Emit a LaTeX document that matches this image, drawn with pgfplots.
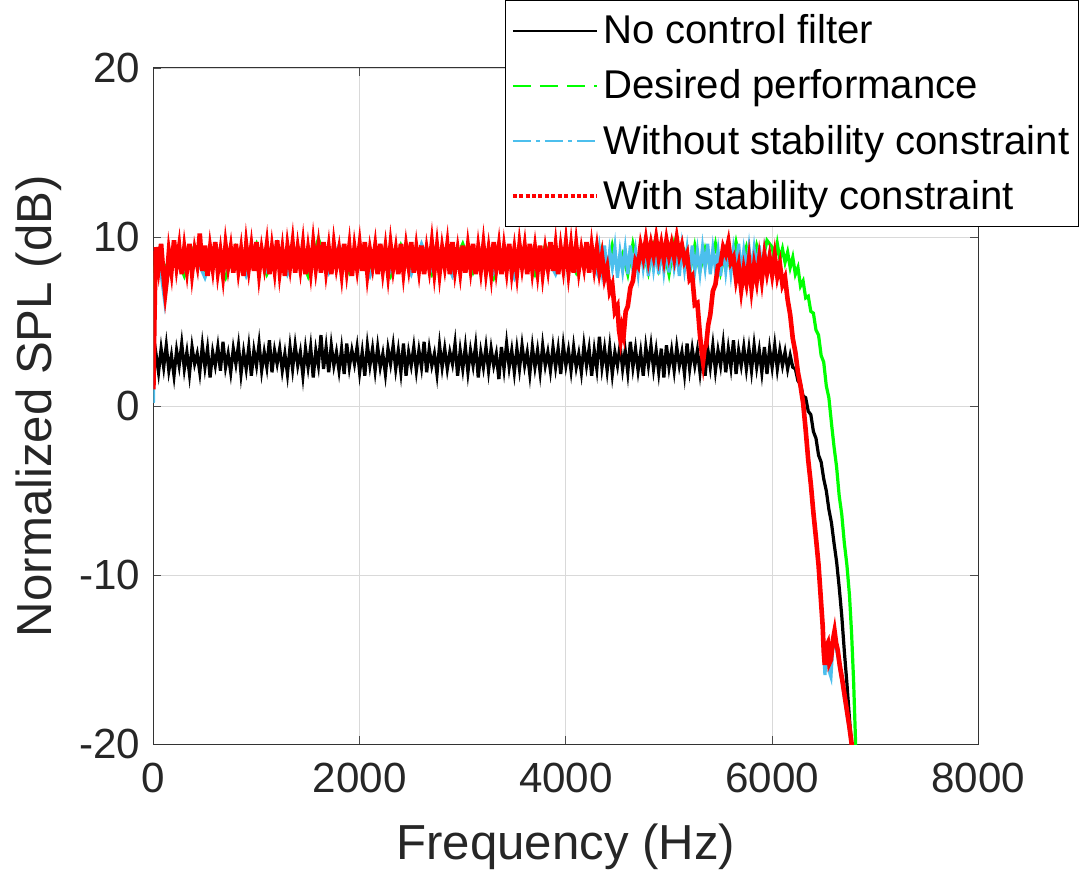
\documentclass[border=0pt]{standalone}
\usepackage{pgfplots}
\pgfplotsset{compat=1.18}
\usepackage{fontspec}
\setmainfont{Liberation Sans}
\definecolor{mblue}{rgb}{0.30,0.75,0.93}
\definecolor{mgreen}{rgb}{0,1,0}
\definecolor{mred}{rgb}{1,0,0}

\begin{document}
\begin{tikzpicture}
\begin{axis}[
    width=411pt, height=337pt, scale only axis,
    xmin=0, xmax=8000, ymin=-20, ymax=20,
    xtick={0,2000,4000,6000,8000},
    ytick={-20,-10,0,10,20},
    tick align=inside, major tick length=4pt,
    tick style={black!70, line width=0.4pt},
    axis line style={black!80, line width=0.5pt},
    grid=major, grid style={black!15, line width=0.4pt},
    /pgf/number format/assume math mode=true,
    /pgf/number format/set thousands separator={},
    ticklabel style={font=\fontsize{21}{25}\selectfont, text=black!85},
    yticklabel style={xshift=-3pt},
    xticklabel style={yshift=-6pt},
    label style={font=\fontsize{24.5}{29}\selectfont, text=black!85},
    xlabel={Frequency (Hz)},
    ylabel={Normalized SPL (dB)},
    xlabel style={yshift=-8.5pt},
    ylabel style={yshift=2pt},
    legend style={at={(0.4265,1.1004)}, anchor=north west,
        font=\fontsize{20}{23}\selectfont, draw=black, line width=0.5pt,
        inner xsep=2.5pt, inner ysep=5pt, row sep=7.5pt,
        cells={anchor=west}},
    legend image code/.code={\draw[#1] (0pt,0pt) -- (42pt,0pt);},
]

% no control filter
\addplot[black, line width=1.6pt, forget plot] coordinates {
(0,2.2) (25,3.1) (50,2.0) (75,3.4) (100,2.3) (125,3.6) (150,2.1) (175,3.0) (200,1.8) (225,3.3)
(250,2.4) (275,3.7) (300,2.2) (325,3.2) (350,1.9) (375,3.5) (400,2.5) (425,3.1) (450,2.0) (475,3.6)
(500,2.3) (525,3.4) (550,1.7) (575,3.2) (600,2.4) (625,3.5) (650,2.1) (675,3.8) (700,2.3) (725,3.1)
(750,2.0) (775,3.4) (800,2.5) (825,3.6) (850,1.9) (875,3.2) (900,2.2) (925,3.5) (950,1.8) (975,3.3)
(1000,2.4) (1025,3.7) (1050,2.1) (1075,3.2) (1100,2.3) (1125,3.9) (1150,2.0) (1175,3.3) (1200,2.5) (1225,3.4)
(1250,2.1) (1275,3.1) (1300,1.9) (1325,3.5) (1350,2.2) (1375,3.6) (1400,2.4) (1425,3.2) (1450,1.8) (1475,3.4)
(1500,2.3) (1525,3.5) (1550,1.7) (1575,3.3) (1600,2.4) (1625,4.2) (1650,2.2) (1675,3.5) (1700,2.0) (1725,3.6)
(1750,2.4) (1775,3.2) (1800,2.1) (1825,3.4) (1850,1.9) (1875,3.7) (1900,2.3) (1925,3.3) (1950,2.5) (1975,3.5)
(2000,2.0) (2025,3.2) (2050,1.8) (2075,3.6) (2100,2.4) (2125,3.4) (2150,2.1) (2175,3.5) (2200,2.3) (2225,3.1)
(2250,1.9) (2275,3.4) (2300,2.5) (2325,3.6) (2350,2.2) (2375,3.3) (2400,2.0) (2425,3.7) (2450,1.8) (2475,3.2)
(2500,2.4) (2525,3.5) (2550,2.1) (2575,3.3) (2600,2.3) (2625,3.8) (2650,2.0) (2675,3.4) (2700,2.4) (2725,3.1)
(2750,1.9) (2775,3.6) (2800,2.3) (2825,3.4) (2850,2.2) (2875,3.2) (2900,2.5) (2925,3.7) (2950,1.8) (2975,3.3)
(3000,2.2) (3025,3.5) (3050,2.0) (3075,3.3) (3100,2.4) (3125,3.6) (3150,1.7) (3175,3.2) (3200,2.3) (3225,3.5)
(3250,2.1) (3275,3.4) (3300,2.4) (3325,3.1) (3350,1.6) (3375,3.5) (3400,2.2) (3425,3.7) (3450,2.3) (3475,3.3)
(3500,2.0) (3525,3.4) (3550,2.2) (3575,3.6) (3600,2.4) (3625,3.2) (3650,1.9) (3675,3.5) (3700,2.3) (3725,3.3)
(3750,2.0) (3775,3.6) (3800,2.4) (3825,3.2) (3850,2.1) (3875,3.5) (3900,2.3) (3925,3.4) (3950,1.9) (3975,3.6)
(4000,2.4) (4025,3.3) (4050,2.1) (4075,3.5) (4100,2.3) (4125,3.1) (4150,2.0) (4175,3.6) (4200,2.4) (4225,3.4)
(4250,1.8) (4275,3.3) (4300,2.2) (4325,4.1) (4350,2.3) (4375,3.4) (4400,2.1) (4425,3.5) (4450,1.9) (4475,3.2)
(4500,2.4) (4525,3.6) (4550,2.2) (4575,3.3) (4600,2.0) (4625,3.8) (4650,2.3) (4675,3.4) (4700,2.1) (4725,3.2)
(4750,1.8) (4775,3.5) (4800,2.4) (4825,3.6) (4850,2.2) (4875,3.3) (4900,2.0) (4925,3.4) (4950,1.7) (4975,3.6)
(5000,2.3) (5025,3.3) (5050,2.1) (5075,3.5) (5100,2.4) (5125,3.2) (5150,1.9) (5175,3.7) (5200,2.2) (5225,3.4)
(5250,2.4) (5275,3.3) (5300,2.0) (5325,3.5) (5350,1.8) (5375,3.4) (5400,2.3) (5425,3.6) (5450,2.1) (5475,3.3)
(5500,2.4) (5525,3.7) (5550,2.0) (5575,3.4) (5600,2.3) (5625,3.9) (5650,1.9) (5675,3.3) (5700,2.4) (5725,3.5)
(5750,2.2) (5775,3.4) (5800,2.1) (5825,3.6) (5850,2.3) (5875,3.3) (5900,2.0) (5925,3.5) (5950,1.9) (5975,3.4)
(6000,2.3) (6025,3.6) (6050,2.2) (6075,3.3) (6100,2.4) (6125,3.2) (6150,2.2) (6175,3.0) (6200,2.3) (6225,2.2)
(6250,1.5) (6275,1.3) (6300,0.6) (6325,0.5) (6350,-0.3) (6375,-0.5) (6400,-1.5) (6425,-1.9) (6450,-2.9)
(6475,-3.3) (6500,-4.3) (6525,-5.0) (6550,-6.1) (6575,-6.9) (6600,-8.1) (6625,-9.2) (6650,-10.7)
(6675,-12.4) (6700,-14.5) (6725,-16.4) (6750,-18.5) (6775,-20.5)
};

% desired performance
\addplot[mgreen, line width=1.6pt, forget plot] coordinates {
(0,2.0) (20,8.6) (100,8.0) (200,9.2) (300,7.7) (400,9.5) (500,8.1) (600,9.0) (700,7.6)
(800,9.4) (900,8.2) (1000,9.6) (1100,7.8) (1200,9.1) (1300,8.0) (1400,9.3) (1500,7.7)
(1600,9.9) (1700,8.1) (1800,9.2) (1900,7.9) (2000,9.4) (2100,8.2) (2200,9.0) (2300,7.7)
(2400,9.5) (2500,8.0) (2600,9.3) (2700,7.8) (2800,9.1) (2900,8.2) (3000,9.6) (3100,7.9)
(3200,9.2) (3300,7.6) (3400,9.4) (3500,8.1) (3600,9.3) (3700,7.8) (3800,9.5) (3900,8.0)
(4000,9.2) (4100,7.9) (4200,9.4) (4300,8.1) (4350,9.3) (4400,7.9) (4450,9.5) (4500,8.2)
(4550,9.0) (4600,7.8) (4650,9.6) (4700,8.3) (4750,9.2) (4800,7.9) (4850,9.4) (4900,8.1)
(4950,9.3) (5000,7.8) (5050,9.6) (5100,8.2) (5150,9.1) (5200,7.9) (5250,9.5) (5300,8.0)
(5350,9.3) (5400,8.2) (5450,9.6) (5500,7.9) (5550,9.2) (5600,8.1) (5650,9.7) (5700,8.3)
(5750,9.4) (5800,8.0) (5850,9.5) (5900,8.4) (5950,9.8) (6000,9.4) (6025,8.6) (6050,9.6)
(6075,8.7) (6100,9.3) (6125,8.5) (6150,9.1) (6175,8.2) (6200,8.8) (6225,7.8) (6250,8.2)
(6275,7.1) (6300,7.4) (6325,6.4) (6350,6.5) (6375,5.6) (6400,5.5) (6425,4.5) (6450,4.2)
(6475,3.0) (6500,2.6) (6525,1.2) (6550,0.5) (6575,-1.0) (6600,-2.4) (6625,-3.6) (6650,-5.3)
(6675,-6.4) (6700,-8.1) (6725,-9.4) (6750,-11.2) (6770,-13.4) (6790,-16.3) (6812,-20.5)
};

% without stability constraint
\addplot[mblue, line width=1.6pt, forget plot] coordinates {
(0,0.2) (20,8.2) (50,9.0) (110,6.2) (150,8.4) (200,9.4) (300,8.1) (400,9.0) (500,7.6)
(600,9.5) (700,8.2) (800,9.3) (900,7.7) (1000,9.1) (1100,8.0) (1200,9.6) (1300,7.8)
(1400,9.2) (1500,8.1) (1600,9.4) (1700,7.9) (1800,9.5) (1900,8.2) (2000,9.0) (2100,7.7)
(2200,9.4) (2300,8.0) (2400,9.2) (2500,7.8) (2600,9.6) (2700,8.1) (2800,9.3) (2900,7.7)
(3000,9.1) (3100,8.2) (3200,9.5) (3300,7.9) (3400,9.2) (3500,7.6) (3600,9.4) (3700,8.2)
(3800,9.0) (3900,7.8) (4000,9.5) (4100,8.1) (4200,9.3)
(4300,7.9) (4325,9.3) (4350,8.0) (4375,9.5) (4400,7.7) (4425,9.2) (4450,8.2) (4475,9.4)
(4500,7.6) (4525,9.1) (4550,8.0) (4575,9.3) (4600,7.8) (4625,9.5) (4650,8.1) (4675,9.2)
(4700,7.9) (4725,9.6) (4750,8.2) (4775,9.3) (4800,7.7) (4825,9.4) (4850,8.1) (4875,9.2)
(4900,7.8) (4925,9.5) (4950,8.0) (4975,9.3) (5000,7.9) (5025,9.6) (5050,8.2) (5075,9.1)
(5100,7.7) (5125,9.4) (5150,8.1) (5175,9.3) (5200,7.8) (5225,9.5) (5250,8.0) (5275,9.2)
(5300,7.9) (5325,9.4) (5350,8.2) (5375,9.6) (5400,7.8) (5425,9.3) (5450,8.1) (5475,9.2)
(5500,7.7) (5525,9.5) (5550,8.0) (5575,9.4) (5600,7.9) (5625,9.3) (5650,8.2) (5675,9.6)
(5700,7.8) (5725,9.2) (5750,8.1) (5775,9.4) (5800,7.9) (5825,9.3) (5850,8.0) (5875,9.5)
(5900,7.8) (5925,9.2) (5950,8.1) (5975,9.0) (6000,8.0) (6025,8.8) (6050,7.9) (6075,8.4)
(6100,7.2) (6125,7.6) (6150,6.3) (6175,5.4) (6200,4.0) (6225,3.2) (6250,2.0) (6275,1.2)
(6300,0.2) (6325,-1.4) (6350,-3.2) (6375,-4.6) (6400,-6.3) (6425,-7.8) (6450,-9.4)
(6470,-11.2) (6490,-13.0) (6500,-14.6) (6512,-15.9) (6525,-14.4) (6540,-14.3) (6555,-15.7)
(6570,-16.0) (6590,-14.0) (6605,-13.6) (6620,-14.3) (6635,-14.7) (6655,-15.5) (6680,-16.3)
(6700,-17.2) (6725,-18.2) (6750,-19.2) (6780,-20.4)
};

% with stability constraint
\addplot[mred, line width=2.3pt, forget plot] coordinates {
(0,1.0) (10,5.0) (20,8.6) (25,9.4) (50,8.2) (75,9.6) (100,7.6) (115,6.7) (130,7.5) (150,9.1)
(175,8.0) (200,9.8) (225,8.3) (250,9.4) (275,7.8) (300,9.3) (325,8.1) (350,9.6) (375,7.9) (400,9.2)
(425,8.4) (450,10.2) (475,8.0) (500,9.5) (525,7.7) (550,9.3) (575,8.2) (600,9.7) (625,8.0) (650,9.1)
(675,7.8) (700,9.5) (725,8.3) (750,9.3) (775,7.9) (800,9.6) (825,8.1) (850,9.2) (875,7.7) (900,9.5)
(925,8.2) (950,9.4) (975,8.0) (1000,9.7) (1025,7.9) (1050,9.2) (1075,8.3) (1100,9.5) (1125,7.8) (1150,9.3)
(1175,8.1) (1200,9.8) (1225,8.0) (1250,9.2) (1275,7.7) (1300,9.4) (1325,8.3) (1350,9.6) (1375,7.9) (1400,9.3)
(1425,8.2) (1450,9.5) (1475,7.8) (1500,9.2) (1525,8.0) (1550,9.6) (1575,8.2) (1600,9.4) (1625,7.9) (1650,9.7)
(1675,8.1) (1700,9.3) (1725,7.8) (1750,9.5) (1775,8.3) (1800,9.2) (1825,7.9) (1850,9.6) (1875,8.1) (1900,9.4)
(1925,7.7) (1950,9.3) (1975,8.2) (2000,9.5) (2025,8.0) (2050,9.7) (2075,7.9) (2100,9.2) (2125,8.3) (2150,9.4)
(2175,7.8) (2200,9.6) (2225,8.1) (2250,9.3) (2275,7.9) (2300,9.5) (2325,8.2) (2350,9.2) (2375,7.8) (2400,9.6)
(2425,8.0) (2450,9.4) (2475,8.3) (2500,9.7) (2525,7.9) (2550,9.3) (2575,8.1) (2600,9.5) (2625,7.8) (2650,9.2)
(2675,8.2) (2700,9.6) (2725,8.0) (2750,9.4) (2775,7.9) (2800,9.3) (2825,8.3) (2850,9.5) (2875,7.8) (2900,9.7)
(2925,8.1) (2950,9.2) (2975,8.0) (3000,9.5) (3025,7.9) (3050,9.4) (3075,8.2) (3100,9.6) (3125,7.8) (3150,9.3)
(3175,8.1) (3200,9.5) (3225,8.0) (3250,9.2) (3275,7.9) (3300,9.7) (3325,8.2) (3350,9.4) (3375,7.8) (3400,9.3)
(3425,8.1) (3450,9.6) (3475,8.0) (3500,9.2) (3525,7.9) (3550,9.5) (3575,8.3) (3600,9.4) (3625,7.8) (3650,9.6)
(3675,8.1) (3700,9.3) (3725,8.0) (3750,9.5) (3775,7.9) (3800,9.2) (3825,8.2) (3850,9.7) (3875,8.0) (3900,9.4)
(3925,7.8) (3950,9.3) (3975,8.2) (4000,9.6) (4025,8.0) (4050,9.4) (4075,7.9) (4100,9.5) (4125,8.1) (4150,9.2)
(4175,8.3) (4200,9.7) (4225,7.9) (4250,9.4) (4275,8.2) (4300,9.3) (4325,8.0) (4350,8.9)
(4375,7.6) (4400,8.2) (4425,6.8) (4450,7.2) (4475,5.6) (4500,5.9) (4515,4.5) (4530,3.9) (4545,4.6)
(4560,4.2) (4580,5.6) (4600,5.9) (4625,7.0) (4650,7.4) (4675,8.6) (4700,8.3) (4725,9.5) (4750,8.8)
(4775,9.8) (4800,8.7) (4825,9.6) (4850,8.9) (4875,9.9) (4900,8.8) (4925,9.6) (4950,8.7) (4975,9.8)
(5000,8.9) (5025,9.6) (5050,8.8) (5075,9.9) (5100,8.9) (5125,9.5) (5150,8.6) (5175,9.0) (5200,7.5)
(5225,7.7) (5250,6.0) (5275,6.1) (5300,4.2) (5315,3.3) (5330,2.6) (5345,3.4) (5360,3.6) (5380,4.8)
(5400,5.4) (5425,6.8) (5450,7.2) (5475,8.3) (5500,8.4) (5525,9.4) (5550,9.0) (5575,9.7) (5600,8.5)
(5625,8.8) (5650,7.5) (5675,8.3) (5700,6.9) (5725,8.1) (5750,7.3) (5775,8.6) (5800,7.0) (5825,8.3)
(5850,7.4) (5875,8.7) (5900,7.5) (5925,8.9) (5950,7.9) (5975,8.8) (6000,7.8) (6025,8.9) (6050,7.7)
(6075,8.4) (6100,7.2) (6125,7.6) (6150,6.3) (6175,5.4) (6200,4.0) (6225,3.2) (6250,2.0) (6275,1.2)
(6300,0.2) (6325,-1.4) (6350,-3.2) (6375,-4.6) (6400,-6.3) (6425,-7.8) (6450,-9.4) (6470,-11.2)
(6490,-13.0) (6500,-14.5) (6510,-15.3) (6525,-14.2) (6540,-14.0) (6555,-15.2) (6570,-15.0)
(6590,-13.8) (6605,-13.3) (6620,-14.0) (6635,-14.4) (6655,-15.3) (6680,-16.2) (6700,-17.0)
(6725,-18.0) (6750,-19.0) (6780,-20.4)
};

\addlegendimage{black, line width=1pt}
\addlegendentry{No control filter}
\addlegendimage{mgreen, line width=1pt, dash pattern=on 9pt off 4.5pt}
\addlegendentry{Desired performance}
\addlegendimage{mblue, line width=0.8pt, dash pattern=on 9pt off 2.5pt on 2pt off 2.5pt}
\addlegendentry{Without stability constraint}
\addlegendimage{mred, line width=2pt, dash pattern=on 2pt off 1.2pt}
\addlegendentry{With stability constraint}

\end{axis}
\path ([xshift=-4.5pt]current bounding box.west);
\end{tikzpicture}
\end{document}
